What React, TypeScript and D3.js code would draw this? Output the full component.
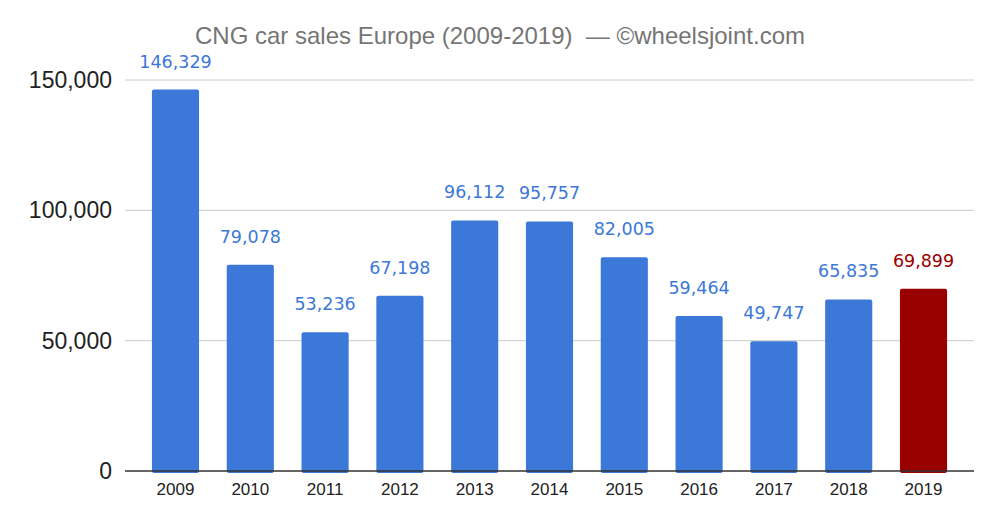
import React, { useRef, useEffect } from 'react';
import * as d3 from 'd3';

const WIDTH = 1000;
const HEIGHT = 525;

const years = ['2009', '2010', '2011', '2012', '2013', '2014', '2015', '2016', '2017', '2018', '2019'];
const sales = [146329, 79078, 53236, 67198, 96112, 95757, 82005, 59464, 49747, 65835, 69899];
const yTicks = [0, 50000, 100000, 150000];
const highlightYear = '2019';

const BLUE = '#3c78d8';
const RED = '#990000';

export default function App() {
  const svgRef = useRef<SVGSVGElement>(null);

  useEffect(() => {
    if (!svgRef.current) return;
    const svg = d3.select(svgRef.current);
    svg.selectAll('*').remove();

    const left = 125;
    const right = 974;
    const top = 80;
    const bottom = 471;

    const x = d3.scaleBand<string>().domain(years).range([left, right]).paddingInner(0.37).paddingOuter(0.36);
    const y = d3.scaleLinear().domain([0, 150000]).range([bottom, top]);

    svg.append('rect').attr('width', WIDTH).attr('height', HEIGHT).attr('fill', '#ffffff');

    // title
    svg.append('text')
      .attr('x', 500)
      .attr('y', 44)
      .attr('text-anchor', 'middle')
      .attr('fill', '#757575')
      .attr('font-size', '24px')
      .attr('font-family', 'Liberation Sans, Arial, sans-serif')
      .attr('xml:space', 'preserve')
      .text('CNG car sales Europe (2009-2019)  \u2014 \u00a9wheelsjoint.com');

    // gridlines + y labels
    yTicks.forEach((t) => {
      if (t > 0) {
        svg.append('line')
          .attr('x1', left)
          .attr('x2', right)
          .attr('y1', y(t))
          .attr('y2', y(t))
          .attr('stroke', '#cccccc')
          .attr('stroke-width', 1);
      }
      svg.append('text')
        .attr('x', 112)
        .attr('y', y(t))
        .attr('dy', '0.35em')
        .attr('text-anchor', 'end')
        .attr('fill', '#222222')
        .attr('font-size', '23px')
        .attr('font-family', 'Liberation Sans, Arial, sans-serif')
        .text(d3.format(',')(t));
    });

    // bars
    years.forEach((yr, i) => {
      const v = sales[i];
      const color = yr === highlightYear ? RED : BLUE;
      const bx = x(yr) ?? 0;
      svg.append('rect')
        .attr('x', bx)
        .attr('y', y(v))
        .attr('width', x.bandwidth())
        .attr('height', bottom - y(v) + 2)
        .attr('rx', 2)
        .attr('fill', color);

      svg.append('text')
        .attr('x', bx + x.bandwidth() / 2)
        .attr('y', y(v) - 22)
        .attr('text-anchor', 'middle')
        .attr('fill', color)
        .attr('font-size', '17.5px')
        .attr('font-family', 'DejaVu Sans, Verdana, sans-serif')
        .text(d3.format(',')(v));

      svg.append('text')
        .attr('x', bx + x.bandwidth() / 2)
        .attr('y', 495)
        .attr('text-anchor', 'middle')
        .attr('fill', '#222222')
        .attr('font-size', '17px')
        .attr('font-family', 'Liberation Sans, Arial, sans-serif')
        .text(yr);
    });

    // baseline
    svg.append('line')
      .attr('x1', left)
      .attr('x2', right)
      .attr('y1', bottom)
      .attr('y2', bottom)
      .attr('stroke', '#333333')
      .attr('stroke-width', 1.5);
  }, []);

  return (
    <svg
      ref={svgRef}
      width={WIDTH}
      height={HEIGHT}
      viewBox={`0 0 ${WIDTH} ${HEIGHT}`}
      style={{ position: 'absolute', left: 0, top: 0 }}
    />
  );
}
